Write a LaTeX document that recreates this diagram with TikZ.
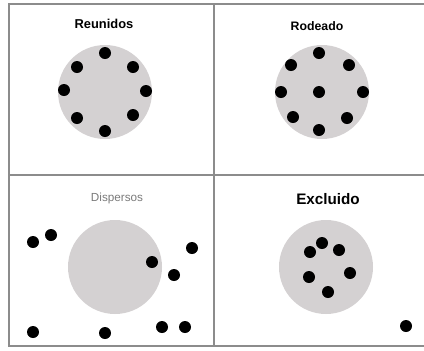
\documentclass[tikz,border=0pt]{standalone}
\usepackage{fontspec}
\setmainfont{Liberation Sans}
\usepackage{xcolor}
\usepackage{tikz}
\usetikzlibrary{positioning, calc}
\definecolor{frameA}{HTML}{8C8C8C}
\definecolor{zoneA}{HTML}{D4D1D2}
\definecolor{textA}{HTML}{7A7A7A}
\tikzset{
  frame/.style={draw=frameA, line width=1.6pt},
  zone/.style={circle, fill=zoneA, minimum size=94*0.03cm, inner sep=0pt},
  person/.style={circle, fill=black, minimum size=12*0.03cm, inner sep=0pt},
  title/.style={font=\bfseries\fontsize{#1}{#1}\selectfont, inner sep=0pt}
}
\begin{document}
\begin{tikzpicture}[x=0.03cm, y=-0.03cm]
  \useasboundingbox (0,0) rectangle (424,350);
  % frame
  \draw[frame] (424,4) -- (9,4) -- (9,346) -- (424,346);
  \draw[frame] (214,4) -- (214,346);
  \draw[frame] (9,175) -- (424,175);
  % zones
  \node[zone] (z1) at (105,92) {};
  \node[zone] (z2) at (322,92) {};
  \node[zone] (z3) at (115,267) {};
  \node[zone] (z4) at (326,267) {};
  % titles
  \node[title=11pt] (t1) at (104,24) {Reunidos};
  \node[title=10.5pt] (t2) at (317,26) {Rodeado};
  \node[title=11pt, font=\mdseries, text=textA] (t3) at (117,198) {Dispersos};
  \node[title=13pt] (t4) at (328,199) {Excluido};
  % people
  \foreach \p [count=\i] in {(105,53),(133,67),(146,91),(133,115),(105,131),(77,118),(64,90),(77,67)}
    \node[person] (a\i) at \p {};
  \foreach \p [count=\i] in {(319,53),(291,65),(349,65),(281,92),(319,92),(363,92),(293,117),(347,118),(319,130)}
    \node[person] (b\i) at \p {};
  \foreach \p [count=\i] in {(33,242),(51,235),(192,248),(152,262),(174,275),(33,332),(105,333),(162,327),(185,327)}
    \node[person] (c\i) at \p {};
  \foreach \p [count=\i] in {(310,252),(322,243),(339,250),(309,277),(350,273),(328,292),(406,326)}
    \node[person] (d\i) at \p {};
\end{tikzpicture}
\end{document}
